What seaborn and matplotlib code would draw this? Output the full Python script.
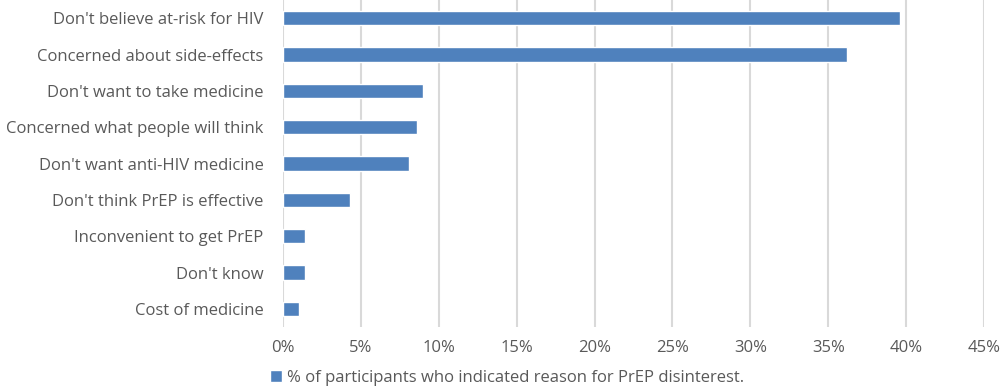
import matplotlib
matplotlib.use("Agg")
import matplotlib.pyplot as plt
from matplotlib.ticker import PercentFormatter
import seaborn as sns
import pandas as pd

# data
reasons = [
    "Don't believe at-risk for HIV",
    "Concerned about side-effects",
    "Don't want to take medicine",
    "Concerned what people will think",
    "Don't want anti-HIV medicine",
    "Don't think PrEP is effective",
    "Inconvenient to get PrEP",
    "Don't know",
    "Cost of medicine",
]
percent = [39.6, 36.2, 9.0, 8.6, 8.1, 4.3, 1.4, 1.4, 1.0]
x_ticks = [0, 5, 10, 15, 20, 25, 30, 35, 40, 45]
series_label = "% of participants who indicated reason for PrEP disinterest."

df = pd.DataFrame({"reason": reasons, "percent": percent})

sns.set_style("white")
plt.rcParams["font.family"] = ["Open Sans", "DejaVu Sans"]

text_color = "#595959"
bar_color = "#4F81BD"
fsize = 12

fig = plt.figure(figsize=(10, 3.88), dpi=100)
ax = fig.add_axes([0.283, 0.157, 0.701, 0.843])

sns.barplot(data=df, x="percent", y="reason", orient="h", color=bar_color,
            width=0.4, label=series_label, ax=ax, saturation=1)

ax.set_xlim(0, 45)
ax.set_xticks(x_ticks)
ax.xaxis.set_major_formatter(PercentFormatter(decimals=0))
ax.set_xlabel("")
ax.set_ylabel("")

# light vertical grid, no frame
ax.grid(axis="x", color="#D9D9D9", linewidth=1.5)
ax.set_axisbelow(True)
for s in ax.spines.values():
    s.set_visible(False)

ax.tick_params(axis="y", length=0, pad=14, labelsize=fsize, labelcolor=text_color)
ax.tick_params(axis="x", length=0, pad=9, labelsize=fsize, labelcolor=text_color)

ax.legend(loc="center", bbox_to_anchor=(0.32, -0.155), bbox_transform=ax.transAxes,
          frameon=False, fontsize=fsize, labelcolor=text_color,
          handlelength=0.7, handleheight=0.7, handletextpad=0.3)

fig.savefig("out.png", dpi=100)
